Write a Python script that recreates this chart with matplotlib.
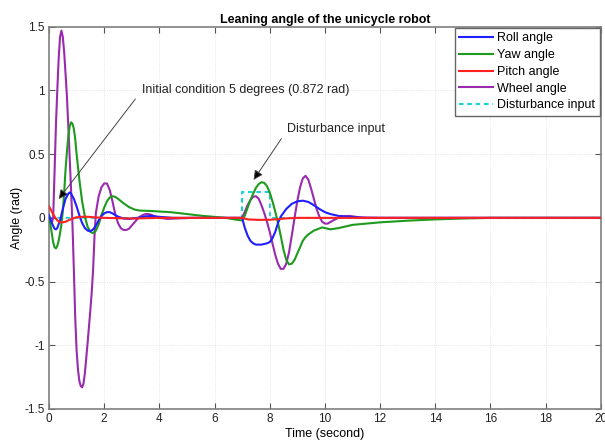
import matplotlib
matplotlib.use("Agg")
import matplotlib.pyplot as plt

plt.rcParams['font.family'] = ['Liberation Sans', 'DejaVu Sans']

title = "Leaning angle of the unicycle robot"
x_label = "Time (second)"
y_label = "Angle (rad)"
x_ticks = [0, 2, 4, 6, 8, 10, 12, 14, 16, 18, 20]
y_ticks = [-1.5, -1, -0.5, 0, 0.5, 1, 1.5]
y_tick_labels = ["-1.5", "-1", "-0.5", "0", "0.5", "1", "1.5"]

# Roll angle (blue)
roll_t = [0.0, 0.1, 0.2, 0.25, 0.3, 0.4, 0.5, 0.6, 0.7, 0.75, 0.8, 0.9, 1.0, 1.1, 1.2, 1.3,
          1.4, 1.5, 1.6, 1.7, 1.8, 1.9, 2.0, 2.1, 2.2, 2.3, 2.5, 2.7, 2.9, 3.2, 3.5, 3.7,
          4.0, 4.5, 5.0, 6.0, 7.0, 7.1, 7.2, 7.3, 7.4, 7.5, 7.6, 7.7, 7.8, 7.9, 8.0, 8.1,
          8.2, 8.3, 8.4, 8.5, 8.6, 8.8, 9.0, 9.2, 9.4, 9.6, 9.8, 10.0, 10.2, 10.5, 10.9,
          11.5, 13.0, 20.0]
roll_v = [0.02, -0.04, -0.085, -0.09, -0.08, -0.02, 0.07, 0.15, 0.19, 0.2, 0.19, 0.15, 0.09,
          0.02, -0.04, -0.08, -0.1, -0.105, -0.09, -0.06, -0.02, 0.015, 0.035, 0.045, 0.045,
          0.035, 0.01, -0.005, -0.008, 0.0, 0.012, 0.015, 0.008, 0.0, 0.0, 0.0, 0.0, -0.08,
          -0.14, -0.18, -0.2, -0.21, -0.21, -0.21, -0.205, -0.2, -0.19, -0.16, -0.11, -0.04,
          0.01, 0.04, 0.07, 0.11, 0.13, 0.135, 0.125, 0.1, 0.07, 0.045, 0.03, 0.015, 0.008,
          0.0, 0.0, 0.0]

# Yaw angle (green)
yaw_t = [0.0, 0.05, 0.1, 0.15, 0.2, 0.25, 0.3, 0.35, 0.4, 0.45, 0.5, 0.55, 0.6, 0.65, 0.7,
         0.75, 0.8, 0.85, 0.9, 0.95, 1.0, 1.05, 1.1, 1.2, 1.3, 1.4, 1.5, 1.6, 1.7, 1.8, 1.9,
         2.0, 2.1, 2.2, 2.3, 2.4, 2.5, 2.7, 2.9, 3.1, 3.3, 3.6, 4.0, 4.4, 4.8, 5.2, 5.6, 6.0,
         6.4, 6.8, 7.0, 7.1, 7.2, 7.3, 7.4, 7.5, 7.6, 7.7, 7.8, 7.9, 8.0, 8.1, 8.2, 8.3, 8.4,
         8.5, 8.6, 8.7, 8.8, 8.9, 9.0, 9.1, 9.2, 9.3, 9.4, 9.6, 9.9, 10.2, 10.5, 11.0, 11.5,
         12.0, 13.0, 14.0, 15.0, 16.0, 20.0]
yaw_v = [0.0, -0.05, -0.12, -0.19, -0.23, -0.24, -0.22, -0.18, -0.12, -0.05, 0.05, 0.2, 0.38,
         0.52, 0.64, 0.72, 0.75, 0.74, 0.7, 0.62, 0.5, 0.4, 0.3, 0.13, 0.01, -0.07, -0.11,
         -0.12, -0.1, -0.05, 0.02, 0.08, 0.13, 0.16, 0.17, 0.165, 0.15, 0.115, 0.085, 0.065,
         0.057, 0.055, 0.05, 0.045, 0.035, 0.025, 0.015, 0.008, 0.0, -0.015, -0.02, 0.02,
         0.08, 0.14, 0.19, 0.235, 0.265, 0.28, 0.275, 0.25, 0.2, 0.13, 0.05, -0.04, -0.14,
         -0.25, -0.33, -0.365, -0.36, -0.33, -0.28, -0.23, -0.18, -0.15, -0.13, -0.1, -0.075,
         -0.09, -0.08, -0.055, -0.045, -0.035, -0.022, -0.012, -0.005, 0.0, 0.0]

# Pitch angle (red)
pitch_t = [0.0, 0.1, 0.2, 0.3, 0.4, 0.5, 0.6, 0.8, 1.0, 1.3, 1.6, 2.0, 3.0, 4.0, 7.0, 7.2,
           7.6, 8.0, 8.3, 8.6, 9.0, 20.0]
pitch_v = [0.09, 0.05, 0.01, -0.02, -0.035, -0.035, -0.03, -0.01, 0.005, 0.01, 0.005, 0.0,
           -0.005, 0.0, 0.0, -0.012, -0.016, -0.015, -0.01, -0.004, 0.0, 0.0]

# Wheel angle (purple)
wheel_t = [0.0, 0.05, 0.1, 0.15, 0.2, 0.25, 0.3, 0.35, 0.4, 0.45, 0.5, 0.55, 0.6, 0.65, 0.7,
           0.75, 0.8, 0.85, 0.9, 0.95, 1.0, 1.05, 1.1, 1.15, 1.2, 1.25, 1.3, 1.35, 1.4, 1.45,
           1.5, 1.55, 1.6, 1.65, 1.7, 1.8, 1.9, 2.0, 2.1, 2.2, 2.3, 2.4, 2.5, 2.6, 2.7, 2.8,
           2.9, 3.0, 3.1, 3.2, 3.3, 3.4, 3.5, 3.6, 3.7, 3.8, 4.0, 4.3, 4.7, 5.2, 7.0, 7.1, 7.2,
           7.3, 7.4, 7.5, 7.6, 7.7, 7.8, 7.9, 8.0, 8.1, 8.2, 8.3, 8.4, 8.5, 8.6, 8.7, 8.8, 8.9,
           9.0, 9.1, 9.2, 9.3, 9.4, 9.5, 9.6, 9.7, 9.8, 9.9, 10.0, 10.1, 10.3, 10.6, 10.9,
           11.3, 12.0, 20.0]
wheel_v = [0.0, -0.03, -0.04, 0.0, 0.35, 0.72, 1.0, 1.25, 1.42, 1.47, 1.42, 1.3, 1.13, 0.95,
           0.72, 0.47, 0.22, -0.05, -0.4, -0.78, -1.04, -1.19, -1.28, -1.32, -1.33, -1.3,
           -1.22, -1.1, -0.98, -0.85, -0.72, -0.58, -0.4, -0.14, 0.04, 0.17, 0.24, 0.27,
           0.27, 0.22, 0.13, 0.03, -0.04, -0.08, -0.095, -0.095, -0.085, -0.06, -0.035,
           -0.01, 0.01, 0.022, 0.03, 0.03, 0.025, 0.015, 0.0, -0.008, -0.004, 0.0, 0.0, 0.05,
           0.1, 0.14, 0.165, 0.17, 0.15, 0.1, 0.04, -0.03, -0.11, -0.2, -0.29, -0.36, -0.4,
           -0.4, -0.36, -0.27, -0.14, 0.0, 0.13, 0.24, 0.31, 0.33, 0.3, 0.23, 0.15, 0.07,
           0.01, -0.03, -0.045, -0.045, -0.02, 0.012, 0.015, 0.003, 0.0, 0.0]

# Disturbance input (cyan dashed)
dist_t = [0.0, 7.0, 7.0, 8.0, 8.0, 20.0]
dist_v = [0.0, 0.0, 0.2, 0.2, 0.0, 0.0]

ann_initial = "Initial condition 5 degrees (0.872 rad)"
ann_dist = "Disturbance input"

fig = plt.figure(figsize=(6.05, 4.46), dpi=100)
ax = fig.add_axes([0.081, 0.083, 0.912, 0.857])

ax.plot(roll_t, roll_v, color='#1f1fff', lw=1.5, label='Roll angle', zorder=4)
ax.plot(yaw_t, yaw_v, color='#1e9a1e', lw=1.5, label='Yaw angle', zorder=3)
ax.plot(pitch_t, pitch_v, color='#ff2020', lw=1.5, label='Pitch angle', zorder=5)
ax.plot(wheel_t, wheel_v, color='#9a2aae', lw=1.5, label='Wheel angle', zorder=2)
ax.plot(dist_t, dist_v, color='#19d3d3', lw=1.5, ls=(0, (2.2, 1.8)), label='Disturbance input', zorder=1)

ax.set_xlim(0, 20)
ax.set_ylim(-1.5, 1.5)
ax.set_xticks(x_ticks)
ax.set_yticks(y_ticks)
ax.set_yticklabels(y_tick_labels)
ax.tick_params(direction='in', top=True, right=True, labelsize=8.5, length=4,
               color='#555555', labelcolor='#222222', pad=3)
ax.grid(True, ls=':', color='#dddddd', lw=0.6)
for s in ax.spines.values():
    s.set_color('#808080')
    s.set_linewidth(1.2)

ax.set_title(title, fontsize=9, fontweight='bold', pad=3)
ax.set_xlabel(x_label, fontsize=9, labelpad=2)
ax.set_ylabel(y_label, fontsize=9, labelpad=1)

ax.annotate('', xy=(0.29, 0.13), xytext=(3.19, 0.95),
            arrowprops=dict(arrowstyle='-|>', color='#444444', lw=0.7, mutation_scale=14,
                            fc='black'))
ax.text(3.37, 1.0, ann_initial, fontsize=9, va='center', ha='left', color='#222222')
ax.annotate('', xy=(7.36, 0.28), xytext=(8.48, 0.64),
            arrowprops=dict(arrowstyle='-|>', color='#444444', lw=0.7, mutation_scale=14,
                            fc='black'))
ax.text(8.62, 0.70, ann_dist, fontsize=9, va='center', ha='left', color='#222222')

leg = ax.legend(loc='upper right', fontsize=9, handlelength=2.7, handletextpad=0.35,
                labelspacing=0.38, borderpad=0.35, borderaxespad=0.1, fancybox=False,
                framealpha=1, edgecolor='#666666')
leg.get_frame().set_linewidth(1.0)

fig.savefig('out.png', dpi=100)
